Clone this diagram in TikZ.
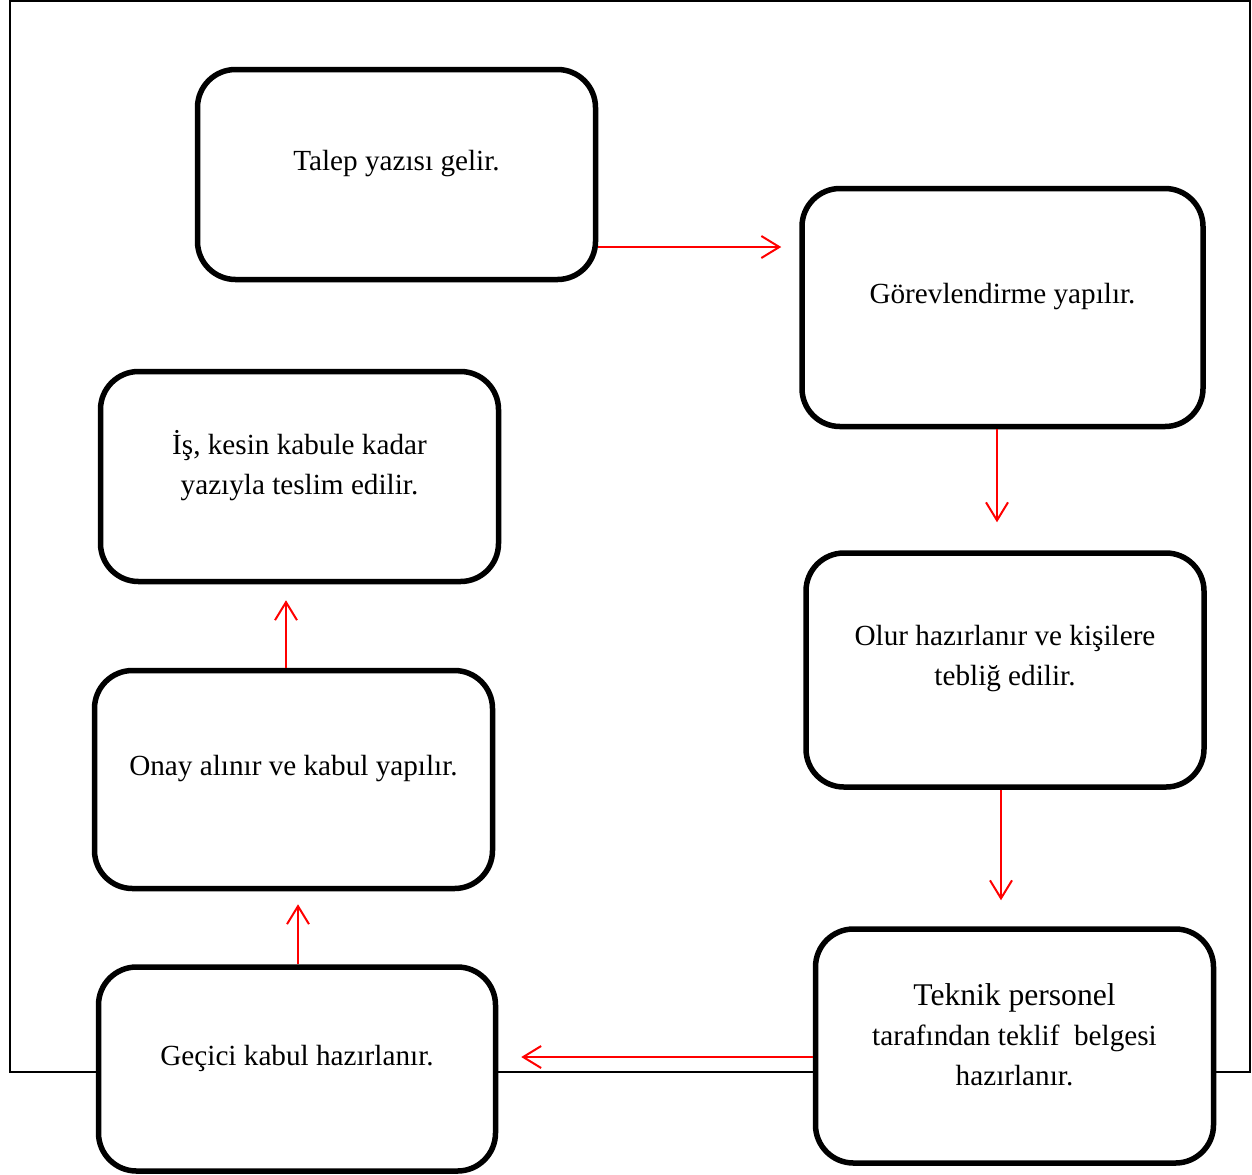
\documentclass[tikz,border=0pt]{standalone}
\usepackage{fontspec}
\setmainfont{Liberation Serif}
\usetikzlibrary{arrows.meta,positioning}

\begin{document}
\begin{tikzpicture}[x=0.5pt,y=-0.5pt,
box/.style={draw,rectangle,rounded corners=19pt,line width=2.75pt,fill=white},
txt/.style={align=center,font=\fontsize{14.6}{20}\selectfont,yshift=5.5pt},
flow/.style={draw=red,line width=1pt,-{Straight Barb[length=9pt,width=11pt]}}]
\useasboundingbox (0,0) rectangle (1252,1174);
\draw[line width=1pt] (10,1) rectangle (1250,1072);
\node[box,minimum width=199pt,minimum height=105pt,
  label={[txt]center:{Talep yazısı gelir.}}] (B1) at (396.5,174.5) {};
\node[box,minimum width=200.5pt,minimum height=119pt,
  label={[txt]center:{Görevlendirme yapılır.}}] (B2) at (1002.5,307.5) {};
\node[box,minimum width=199pt,minimum height=117pt,
  label={[txt]center:{Olur hazırlanır ve kişilere\\tebliğ edilir.}}] (B3) at (1005,670) {};
\node[box,minimum width=199pt,minimum height=117pt,
  label={[txt]center:{{\fontsize{15.8}{20}\selectfont Teknik personel}\\tarafından teklif\ \ belgesi\\hazırlanır.}}] (B4) at (1014.5,1046) {};
\node[box,minimum width=198.5pt,minimum height=102pt,
  label={[txt]center:{Geçici kabul hazırlanır.}}] (B5) at (297,1069) {};
\node[box,minimum width=199pt,minimum height=109pt,
  label={[txt]center:{Onay alınır ve kabul yapılır.}}] (B6) at (293.5,779.5) {};
\node[box,minimum width=199pt,minimum height=105pt,
  label={[txt]center:{İş, kesin kabule kadar\\yazıyla teslim edilir.}}] (B7) at (299.5,476.5) {};
\draw[flow,shorten >=9pt] (B1.east |- 0,247) -- (B2.west |- 0,247);
\draw[flow,shorten >=14pt] (B2.south -| 997,0) -- (B3.north -| 997,0);
\draw[flow,shorten >=13pt] (B3.south -| 1001,0) -- (B4.north -| 1001,0);
\draw[flow,shorten >=11.5pt] (B4.west |- 0,1057) -- (B5.east |- 0,1057);
\draw[flow,shorten >=6.5pt] (B5.north -| 298,0) -- (B6.south -| 298,0);
\draw[flow,shorten >=8pt] (B6.north -| 286,0) -- (B7.south -| 286,0);
\end{tikzpicture}
\end{document}
